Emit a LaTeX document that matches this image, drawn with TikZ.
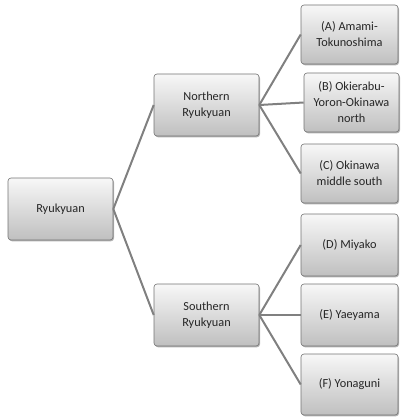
\documentclass[tikz,border=0pt]{standalone}
\usepackage{fontspec}
\setmainfont{Carlito}
\usetikzlibrary{shadows}
\begin{document}
\begin{tikzpicture}[x=1pt,y=-1pt,
  box/.style={draw=black!55, line width=0.6pt, rounded corners=3pt,
    top color=black!3, bottom color=black!25, align=center, text=black!85,
    font=\fontsize{12.3}{16}\selectfont, inner sep=0pt,
    drop shadow={shadow xshift=1pt, shadow yshift=-1.3pt, fill=black!50, opacity=0.6}},
  link/.style={draw=black!50, line width=2pt}]
\useasboundingbox (0,0) rectangle (401,417);
\node[box, minimum width=105pt, minimum height=62pt] (r) at (60.5,209) {Ryukyuan};
\node[box, minimum width=105pt, minimum height=62pt] (n) at (206.5,105) {Northern\\Ryukyuan};
\node[box, minimum width=105pt, minimum height=62pt] (s) at (206.5,315) {Southern\\Ryukyuan};
\node[box, minimum width=97pt, minimum height=59pt] (a) at (349.5,34.5) {(A) Amami-\\Tokunoshima};
\node[box, minimum width=95pt, minimum height=59pt] (b) at (351.5,102.5) {(B) Okierabu-\\Yoron-Okinawa\\north};
\node[box, minimum width=97pt, minimum height=59pt] (c) at (349.5,173.5) {(C) Okinawa\\middle south};
\node[box, minimum width=97pt, minimum height=62pt] (d) at (349.5,245) {(D) Miyako};
\node[box, minimum width=97pt, minimum height=62pt] (e) at (349.5,315) {(E) Yaeyama};
\node[box, minimum width=97pt, minimum height=61pt] (f) at (349.5,384.5) {(F) Yonaguni};
\draw[link] (r.east) -- (n.west);
\draw[link] (r.east) -- (s.west);
\draw[link] (n.east) -- (a.west);
\draw[link] (n.east) -- (b.west);
\draw[link] (n.east) -- (c.west);
\draw[link] (s.east) -- (d.west);
\draw[link] (s.east) -- (e.west);
\draw[link] (s.east) -- (f.west);
\end{tikzpicture}
\end{document}
